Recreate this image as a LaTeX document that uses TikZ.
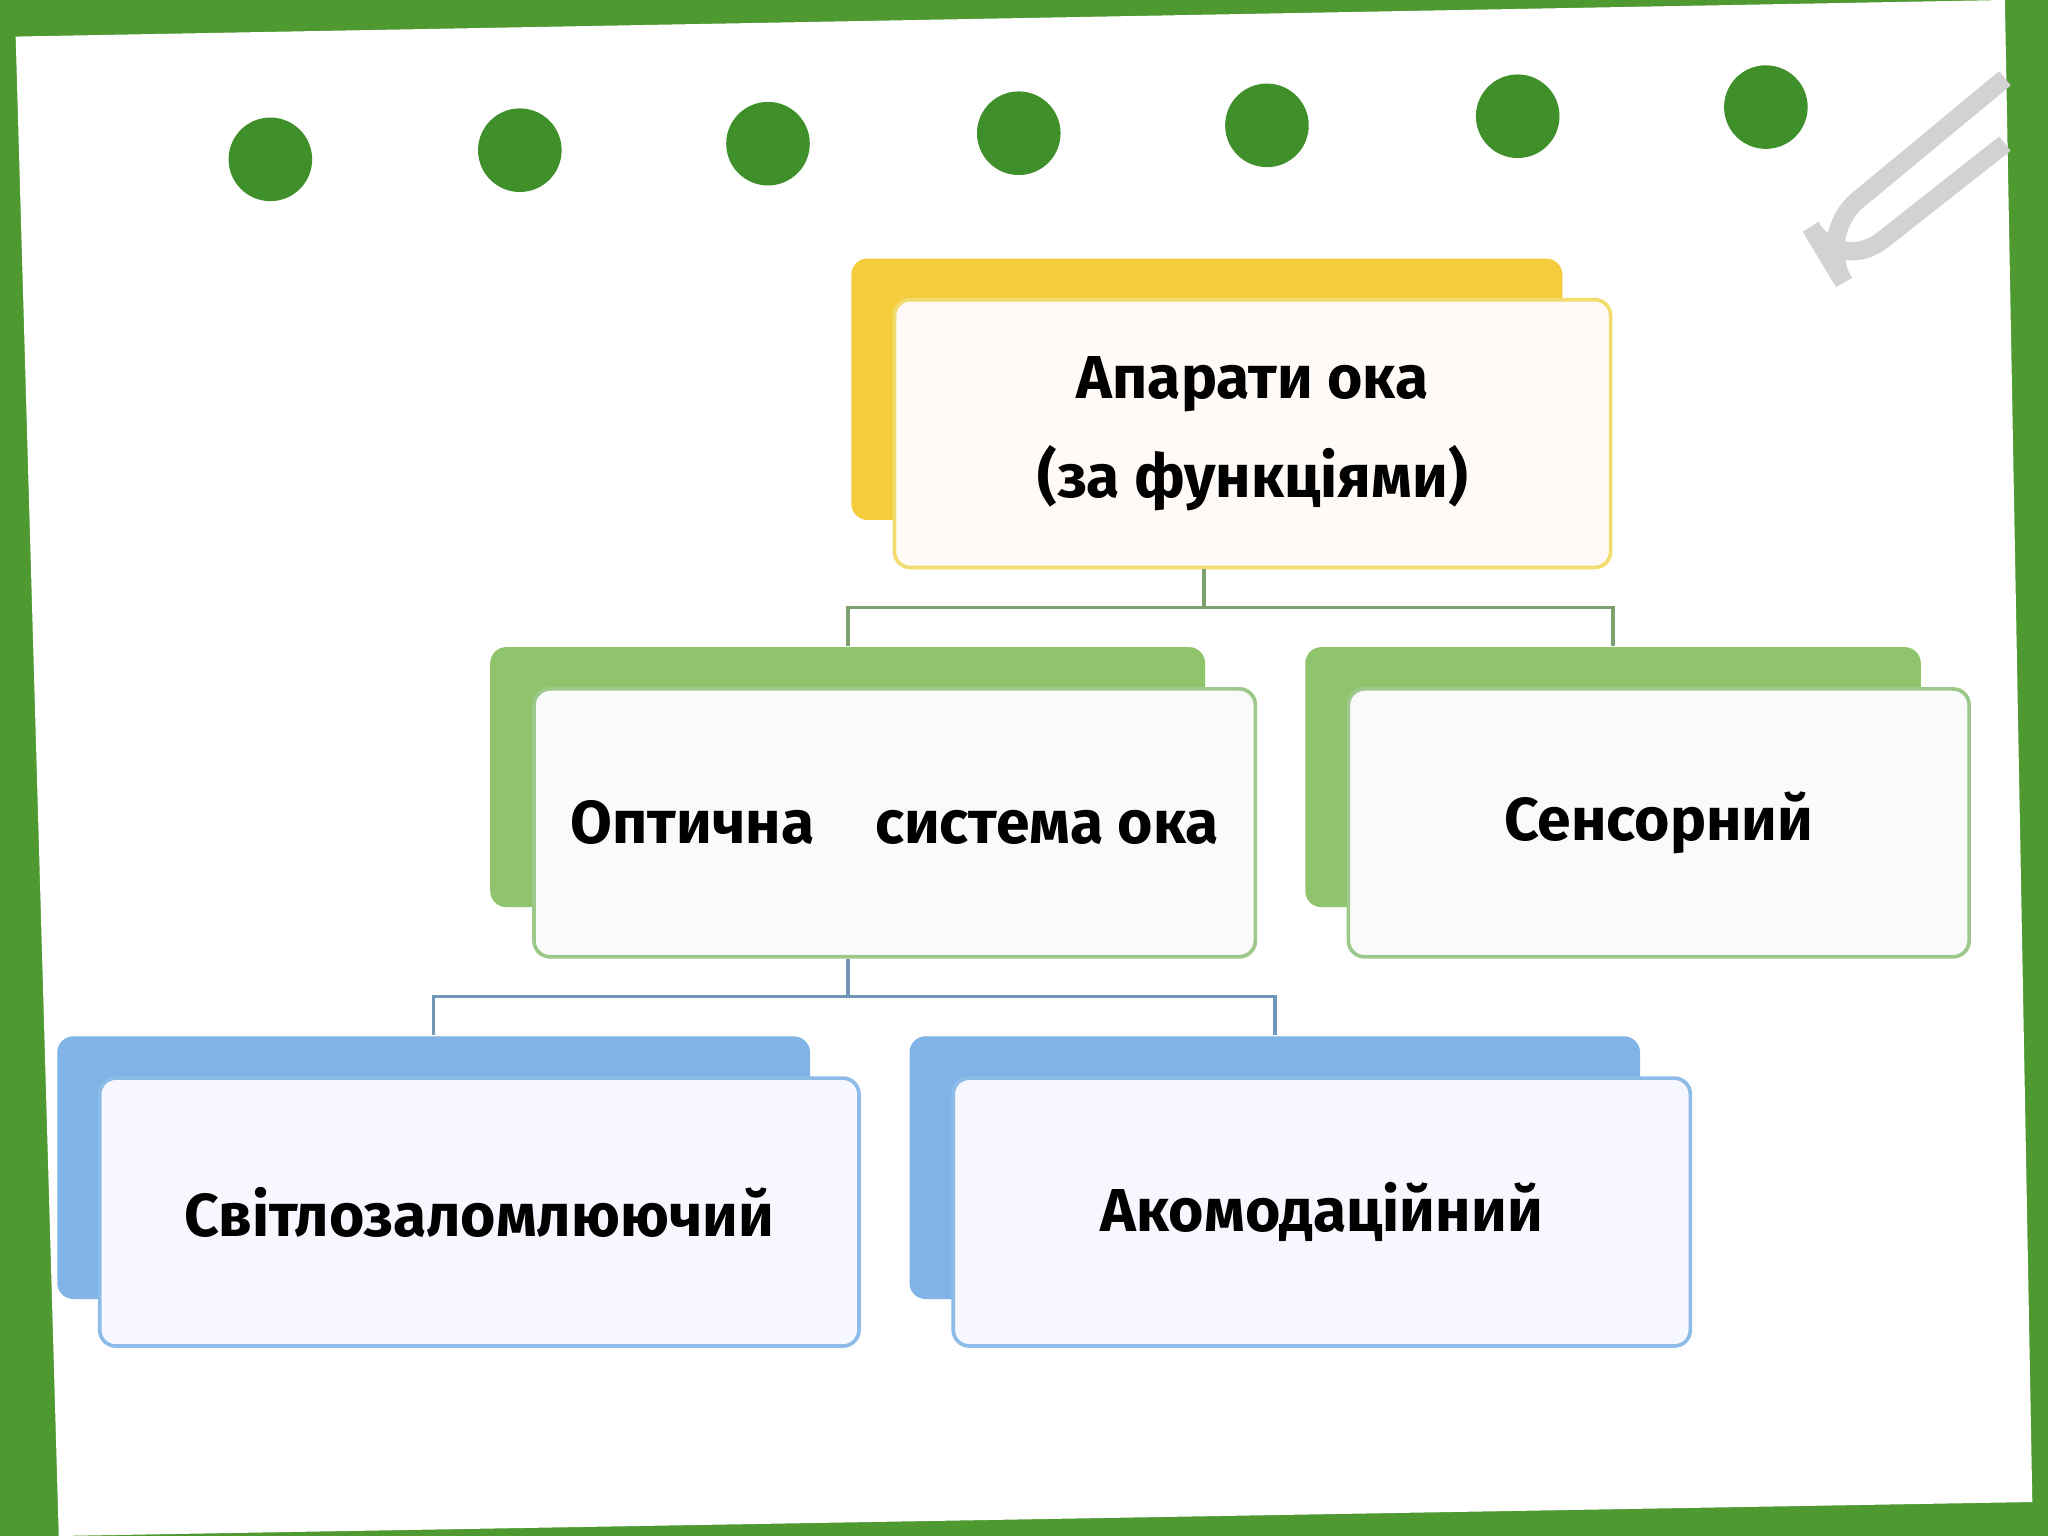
\documentclass[tikz,border=0pt]{standalone}
\usepackage{fontspec}
\setmainfont{Fira Sans}
\definecolor{frame}{HTML}{4E9A30}
\definecolor{dot}{HTML}{3F8F2A}
\definecolor{yel}{HTML}{F4CC3C}
\definecolor{yelb}{HTML}{F2DC70}
\definecolor{grn}{HTML}{8FC46C}
\definecolor{grnb}{HTML}{9CC98A}
\definecolor{blu}{HTML}{80B4E6}
\definecolor{blub}{HTML}{8EBCE8}
\begin{document}
\begin{tikzpicture}[x=0.01cm,y=-0.01cm,
  back/.style={draw=none,rounded corners=3.5pt,inner sep=0pt},
  front/.style={rounded corners=3.5pt,line width=0.8pt,inner sep=0pt,font=\fontsize{13.2}{21.5}\selectfont\bfseries,align=center},
  conn/.style={line width=0.8pt}]
\fill[frame] (0,0) rectangle (1568,1176);
\fill[white] (12,28) -- (1535,0) -- (1556,1150) -- (45,1176) -- cycle;
\useasboundingbox (0,0) rectangle (1568,1176);
\foreach \x/\y in {207/122,398/115,588/110,780/102,970/96,1162/89,1352/82}
  \fill[dot] (\x,\y) circle (32);
\draw[gray!35,line width=4pt,rounded corners=12pt] (1535,60) -- (1390,180) -- (1408,210) -- (1535,110);
% top
\node[back,fill=yel,minimum width=5.44cm,minimum height=2.0cm] (tb) at (924,298) {};
\node[front,draw=yelb,fill=orange!4,minimum width=5.48cm,minimum height=2.05cm] (t) at (959,332) {Апарати ока\\(за функціями)};
% green
\node[back,fill=grn,minimum width=5.47cm,minimum height=1.99cm] (ob) at (649,595) {};
\node[front,draw=grnb,fill=gray!4,minimum width=5.52cm,minimum height=2.05cm] (o) at (685,630) {Оптична\quad система ока};
\node[back,fill=grn,minimum width=4.71cm,minimum height=1.99cm] (sb) at (1235,595) {};
\node[front,draw=grnb,fill=gray!4,minimum width=4.75cm,minimum height=2.05cm] (s) at (1270,630) {Сенсорний};
% blue
\node[back,fill=blu,minimum width=5.76cm,minimum height=2.01cm] (lb) at (332,894) {};
\node[front,draw=blub,fill=blue!3,minimum width=5.81cm,minimum height=2.05cm] (l) at (367,928) {Світлозаломлюючий};
\node[back,fill=blu,minimum width=5.59cm,minimum height=2.01cm] (ab) at (976,894) {};
\node[front,draw=blub,fill=blue!3,minimum width=5.64cm,minimum height=2.05cm] (a) at (1012,928) {Акомодаційний};
% connectors
\coordinate (j1) at (922,465);
\draw[conn,grnb!80!black] (t.south -| j1) -- (j1) -| (ob.north);
\draw[conn,grnb!80!black] (j1) -| (sb.north);
\coordinate (j2) at (649,763);
\draw[conn,blub!80!black] (o.south -| j2) -- (j2) -| (lb.north);
\draw[conn,blub!80!black] (j2) -| (ab.north);
\end{tikzpicture}
\end{document}
